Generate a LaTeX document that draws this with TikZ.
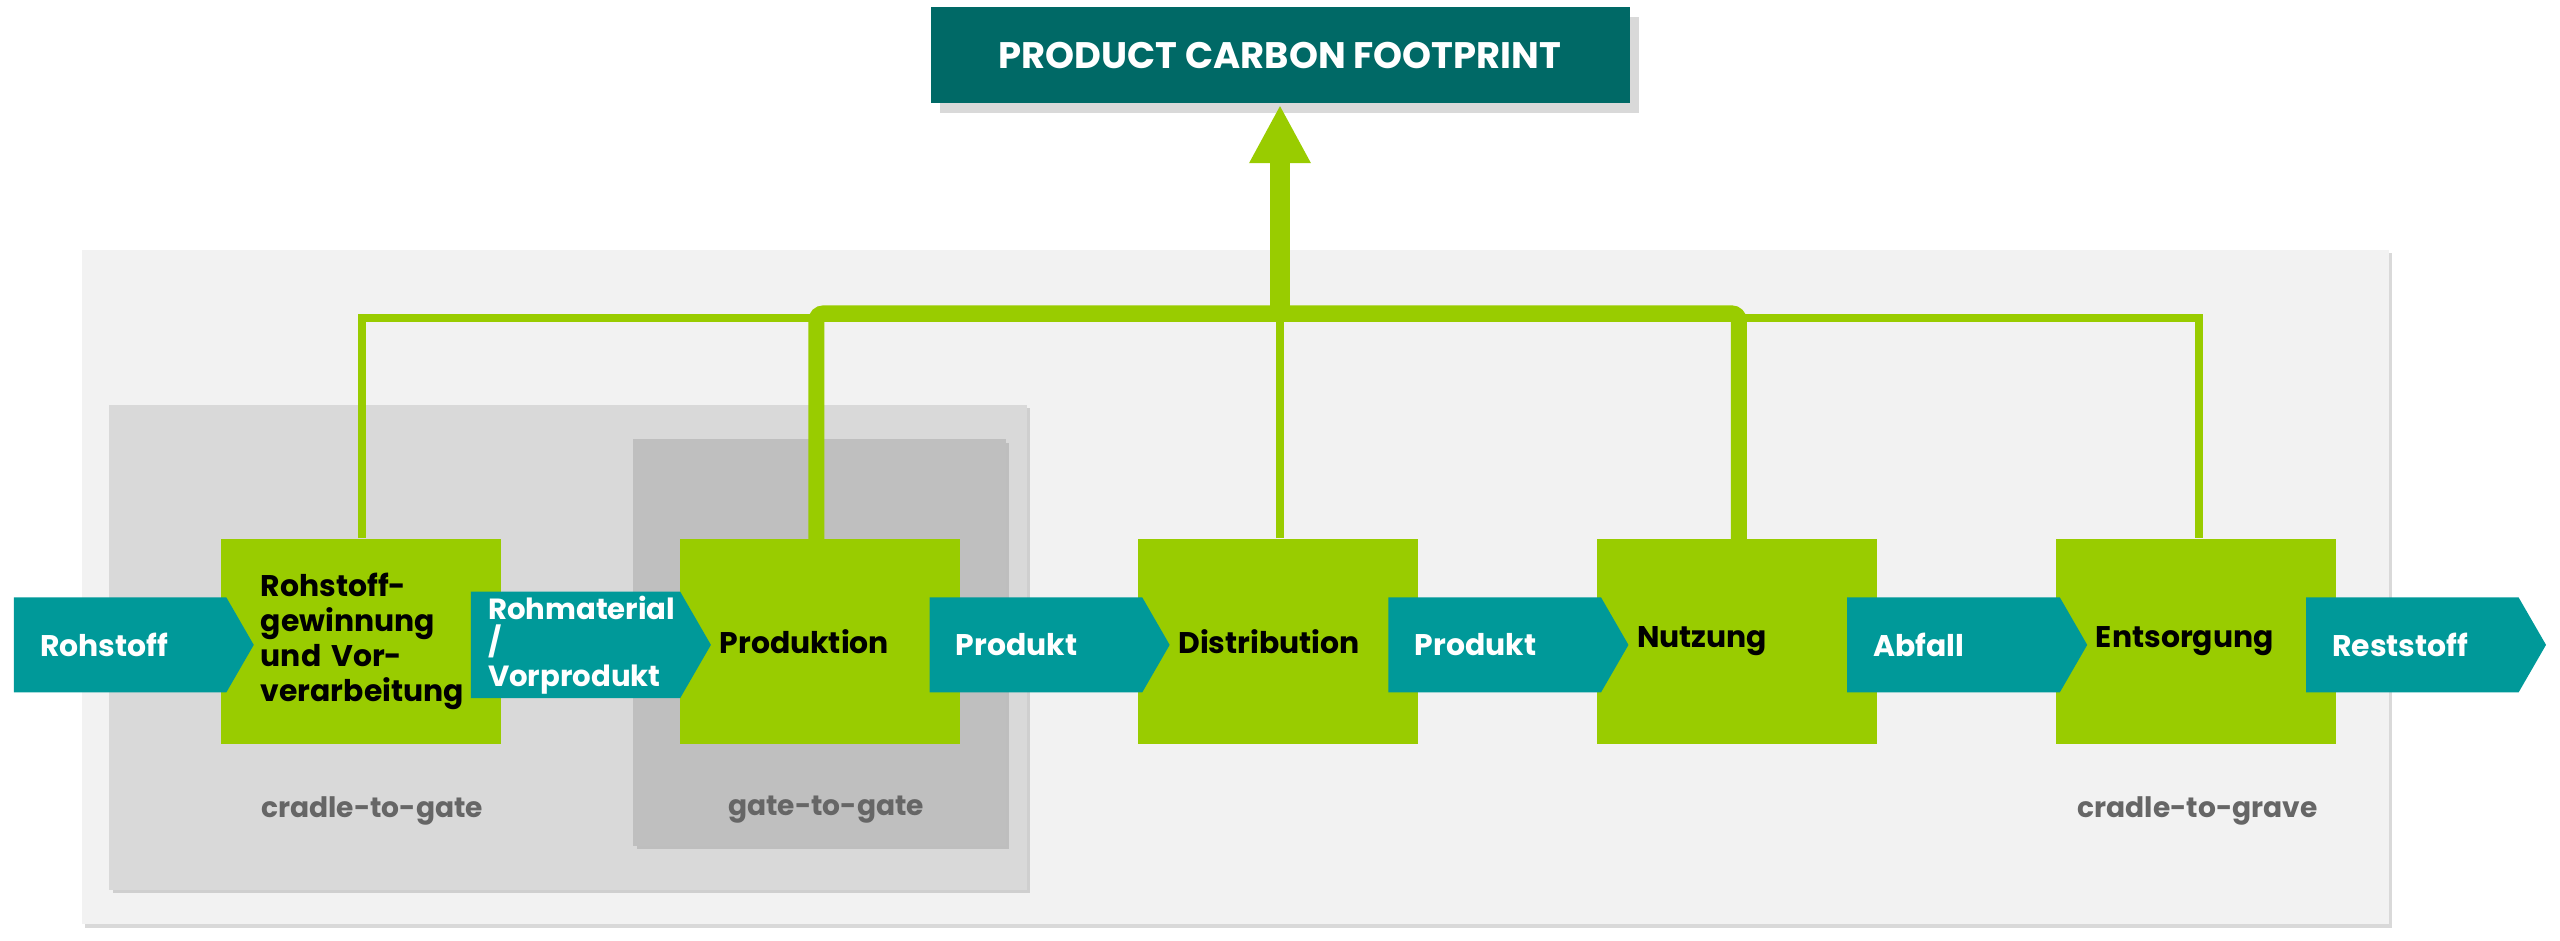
\documentclass[tikz,border=0pt]{standalone}
\usepackage{fontspec}
\setmainfont{Poppins}
\usetikzlibrary{shapes.arrows,shadows,calc}
\definecolor{lgreen}{HTML}{99CC00}
\definecolor{teal1}{HTML}{009999}
\definecolor{dteal}{HTML}{006966}
\definecolor{txtgrey}{HTML}{666666}
\begin{document}
\begin{tikzpicture}[x=0.016327cm,y=-0.016327cm,
  stage/.style={fill=lgreen,draw=none,minimum width=2.8cm,minimum height=2.05cm,inner sep=0pt,font=\fontsize{8.5}{10}\selectfont\bfseries,align=left,text width=2.0cm},
  flow/.style={single arrow,fill=teal1,draw=none,minimum height=2.4cm,minimum width=0.95cm,single arrow head extend=0pt,single arrow tip angle=120,inner sep=1pt,font=\fontsize{8.5}{10}\selectfont\bfseries,text=white,align=left},
  thin/.style={draw=lgreen,line width=0.08cm},
  thick/.style={draw=lgreen,line width=0.16cm},
  area/.style={draw=none,drop shadow={shadow xshift=1pt,shadow yshift=-1pt,opacity=0.3}},
  lab/.style={font=\fontsize{8}{10}\selectfont\bfseries,text=txtgrey}]
\useasboundingbox (0,0) rectangle (1568,576);
\fill[area,fill=black!5] (50,153) rectangle (1463,566);
\fill[area,fill=black!15] (67,248) rectangle (629,545);
\fill[area,fill=black!25] (388,269) rectangle (616,518);
\node[lab] (l1) at (228,497) {cradle-to-gate};
\node[lab] (l2) at (506,496) {gate-to-gate};
\node[lab] (l3) at (1346,497) {cradle-to-grave};
\node[fill=dteal,minimum width=6.99cm,minimum height=0.96cm,text=white,font=\fontsize{10.5}{12}\selectfont\bfseries,drop shadow={opacity=0.3}] (pcf) at (784,34) {PRODUCT CARBON FOOTPRINT};
\node[stage] (s1) at (221,393) {Rohstoff-\\gewinnung\\und Vor-\\verarbeitung};
\node[stage] (s2) at (502,393) {Produktion};
\node[stage] (s3) at (783,393) {Distribution};
\node[stage] (s4) at (1064,393) {Nutzung};
\node[stage] (s5) at (1345,393) {Entsorgung};
\coordinate (hub) at (784,192);
\coordinate (hl) at (222,195);
\coordinate (hr) at (1347,195);
\draw[thin] (s1.north -| hl) -- (hl) -- (hr) -- (s5.north -| hr);
\draw[thin] (s3.north -| hub) -- (784,195);
\draw[thick,rounded corners=2pt] (500,330) -- (500,192) -- (1065,192) -- (1065,330);
\draw[lgreen,line width=0.2cm] (hub) -- (784,98);
\fill[lgreen] (765,100) -- (784,65) -- (803,100) -- cycle;
\node[flow,anchor=west,text width=1.6cm] (a1) at (8,395) {Rohstoff};
\node[flow,anchor=west,text width=1.75cm,font=\fontsize{8.3}{9.5}\selectfont\bfseries] (a2) at (288,395) {Rohmaterial /\\Vorprodukt};
\node[flow,anchor=west,text width=1.6cm] (a3) at (569,395) {Produkt};
\node[flow,anchor=west,text width=1.6cm] (a4) at (850,395) {Produkt};
\node[flow,anchor=west,text width=1.6cm] (a5) at (1131,395) {Abfall};
\node[flow,anchor=west,text width=1.6cm] (a6) at (1412,395) {Reststoff};
\end{tikzpicture}
\end{document}
